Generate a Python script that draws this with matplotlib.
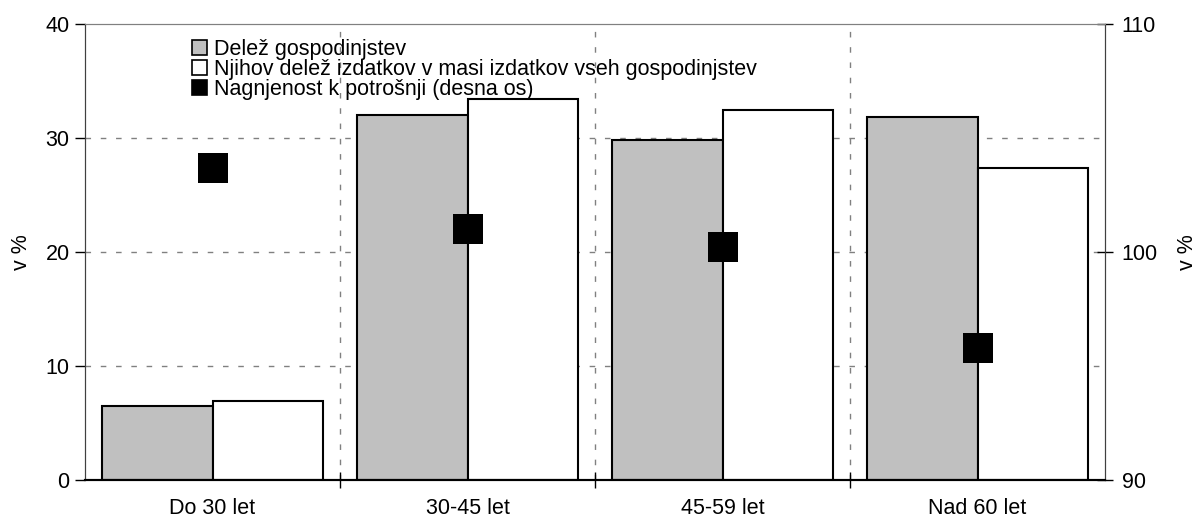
import matplotlib
matplotlib.use("Agg")
import matplotlib.pyplot as plt
from matplotlib.patches import Patch
import numpy as np

plt.rcParams['font.family'] = ['Liberation Sans', 'DejaVu Sans']

# podatki
kategorije = ['Do 30 let', '30-45 let', '45-59 let', 'Nad 60 let']
delez_gosp = [6.5, 32.0, 29.8, 31.8]
delez_izdatkov = [6.9, 33.4, 32.5, 27.4]
nagnjenost = [103.7, 101.0, 100.2, 95.8]

oznake = ['Delež gospodinjstev',
          'Njihov delež izdatkov v masi izdatkov vseh gospodinjstev',
          'Nagnjenost k potrošnji (desna os)']

fs = 15.5
x = np.arange(len(kategorije))
w = 0.435

fig = plt.figure(figsize=(11.97, 5.19), dpi=100)
ax = fig.add_axes([85 / 1197, 1 - 480 / 519, 1020 / 1197, 456 / 519])
ax2 = ax.twinx()

ax.bar(x - w / 2, delez_gosp, w, color='#c0c0c0', edgecolor='black', linewidth=1.5, zorder=2)
ax.bar(x + w / 2, delez_izdatkov, w, color='white', edgecolor='black', linewidth=1.5, zorder=2)
ax2.plot(x, nagnjenost, 's', color='black', ms=21, mew=0, linestyle='none')

ax.set_xlim(-0.5, len(kategorije) - 0.5)
ax.set_ylim(0, 40)
ax2.set_ylim(90, 110)
ax.set_yticks([0, 10, 20, 30, 40])
ax2.set_yticks([90, 100, 110])

# mreža
for v in [10, 20, 30]:
    ax.axhline(v, color='#808080', lw=1, ls=(0, (4, 7)), zorder=1)
for b in x[:-1] + 0.5:
    ax.axvline(b, color='#808080', lw=1, ls=(0, (4, 7)), zorder=1)

ax.set_xticks(x[:-1] + 0.5)
ax.set_xticklabels([])
ax.set_xticks(x, minor=True)
ax.set_xticklabels(kategorije, minor=True, fontsize=fs)
ax.tick_params(axis='x', which='major', direction='inout', length=12, width=1)
ax.tick_params(axis='x', which='minor', length=0, pad=13)
ax.tick_params(axis='y', direction='out', length=7, width=1, labelsize=fs, pad=4)
ax2.tick_params(axis='y', direction='inout', length=12, width=1, labelsize=fs, pad=6)

ax.set_ylabel('v %', fontsize=fs, labelpad=10)
ax2.set_ylabel('v %', fontsize=fs, labelpad=14)

for a in (ax, ax2):
    a.spines['top'].set_color('#808080')
    a.spines['left'].set_color('#404040')
    a.spines['right'].set_color('#404040')
    a.spines['bottom'].set_color('black')
    a.spines['bottom'].set_linewidth(1.5)

rocaji = [Patch(facecolor='#c0c0c0', edgecolor='black', lw=1.2),
          Patch(facecolor='white', edgecolor='black', lw=1.2),
          Patch(facecolor='black', edgecolor='black', lw=1.2)]
ax2.legend(rocaji, oznake, loc='upper left', bbox_to_anchor=(0.105, 0.968),
           frameon=False, fontsize=fs, handlelength=0.7, handleheight=0.7,
           handletextpad=0.3, labelspacing=-0.03, borderpad=0, borderaxespad=0)

fig.savefig('out.png', dpi=100)
